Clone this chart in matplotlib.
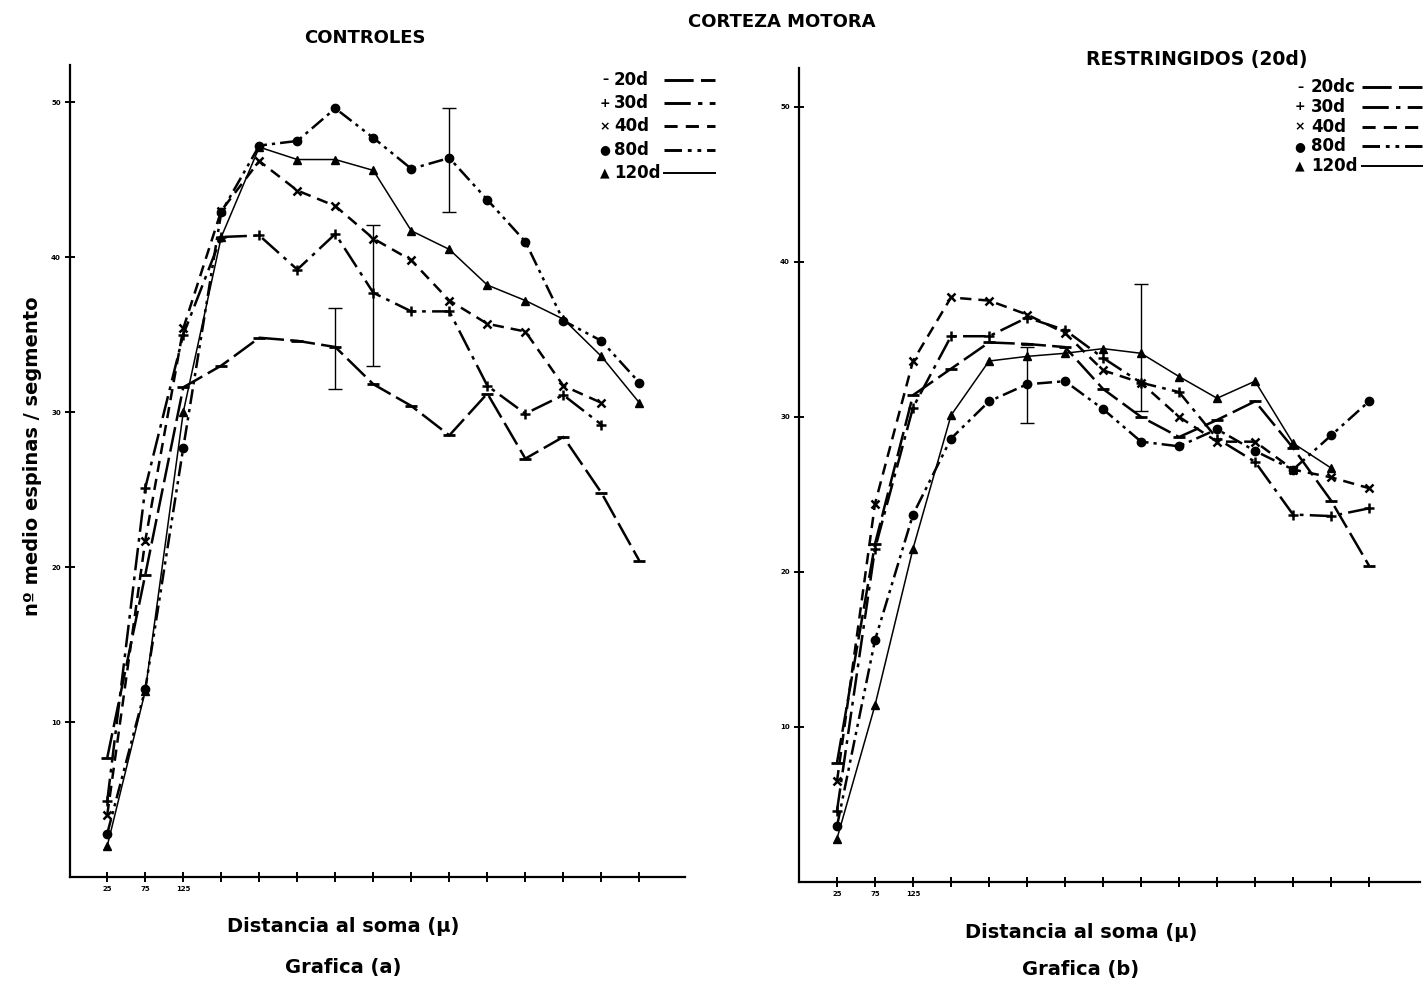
"""Corteza motora: spine density along the dendrite, controls vs. restricted."""

import matplotlib

matplotlib.use("Agg")

import matplotlib.pyplot as plt

# distance from soma (micra), shared by both panels
DIST = [25, 75, 125, 175, 225, 275, 325, 375, 425, 475, 525, 575, 625, 675, 725]

# Grafica (a) - controles
CTRL_20D = [7.7, 19.5, 31.6, 33.0, 34.8, 34.6, 34.2, 31.8, 30.4, 28.5, 31.2, 27.0, 28.4, 24.8, 20.4]
CTRL_30D = [4.9, 25.1, 35.0, 41.3, 41.4, 39.2, 41.5, 37.7, 36.5, 36.5, 31.7, 29.9, 31.1, 29.2]
CTRL_40D = [4.0, 21.7, 35.4, 43.0, 46.2, 44.3, 43.3, 41.2, 39.8, 37.2, 35.7, 35.2, 31.7, 30.6]
CTRL_80D = [2.8, 12.1, 27.7, 42.9, 47.2, 47.5, 49.6, 47.7, 45.7, 46.4, 43.7, 41.0, 35.9, 34.6, 31.9]
CTRL_120D = [2.0, 12.0, 30.0, 41.3, 47.1, 46.3, 46.3, 45.6, 41.7, 40.5, 38.2, 37.2, 36.0, 33.6, 30.6]

# Grafica (b) - restringidos (20d)
REST_20D = [7.7, 21.8, 31.4, 33.1, 34.8, 34.7, 34.5, 31.8, 30.0, 28.7, 29.8, 31.0, 28.0, 24.6, 20.4]
REST_30D = [4.6, 21.5, 30.6, 35.2, 35.2, 36.4, 35.6, 33.8, 32.2, 31.6, 28.6, 27.1, 23.7, 23.6, 24.1]
REST_40D = [6.5, 24.4, 33.6, 37.7, 37.5, 36.6, 35.4, 33.0, 32.2, 30.0, 28.4, 28.4, 26.6, 26.1, 25.4]
REST_80D = [3.6, 15.6, 23.7, 28.6, 31.0, 32.1, 32.3, 30.5, 28.4, 28.1, 29.2, 27.8, 26.6, 28.8, 31.0]
REST_120D = [2.8, 11.4, 21.5, 30.1, 33.6, 33.9, 34.1, 34.4, 34.1, 32.6, 31.2, 32.3, 28.3, 26.7]

# error bars: (distance, low, high)
CTRL_ERR = [(325, 31.5, 36.7), (375, 33.0, 42.1), (475, 42.9, 49.6)]
REST_ERR = [(275, 29.6, 34.5), (425, 30.4, 38.6)]

LEGEND_A = ["20d", "30d", "40d", "80d", "120d"]
LEGEND_B = ["20dc", "30d", "40d", "80d", "120d"]
SYMBOLS = ["\u2013", "+", "\u00d7", "\u25cf", "\u25b2"]

# marker / dash pattern for each age group
STYLES = [
    dict(marker="_", ms=9, mew=2.0, dashes=(10, 2.5), lw=1.8),
    dict(marker="+", ms=7, mew=1.8, dashes=(9, 2.5, 1.5, 2.5), lw=1.8),
    dict(marker="x", ms=5.5, mew=1.8, dashes=(4.5, 2.8), lw=1.8),
    dict(marker="o", ms=6, mew=1.0, dashes=(6, 2, 1.3, 2, 1.3, 2), lw=1.8),
    dict(marker="^", ms=5.5, mew=1.0, dashes=(None, None), lw=1.1),
]

FONT = dict(family="DejaVu Sans", fontweight="bold")
W, H = 1427, 985


def draw_panel(ax, series, errs, xlim, ylim):
    for vals, st in zip(series, STYLES):
        kw = dict(color="black", marker=st["marker"], ms=st["ms"], mew=st["mew"], lw=st["lw"])
        line, = ax.plot(DIST[: len(vals)], vals, **kw)
        if st["dashes"][0] is not None:
            line.set_dashes(st["dashes"])
    for x, lo, hi in errs:
        ax.errorbar([x], [(lo + hi) / 2], yerr=[[(hi - lo) / 2], [(hi - lo) / 2]],
                    fmt="none", ecolor="black", elinewidth=1.0, capsize=5, capthick=1.0)

    ax.set_xlim(*xlim)
    ax.set_ylim(*ylim)
    for side in ("top", "right"):
        ax.spines[side].set_visible(False)
    for side in ("left", "bottom"):
        ax.spines[side].set_linewidth(1.6)
    ax.set_yticks([10, 20, 30, 40, 50])
    ax.set_yticklabels(["10", "20", "30", "40", "50"], fontsize=5, fontweight="bold")
    ax.set_xticks(DIST)
    ax.set_xticklabels(["25", "75", "125"] + [""] * (len(DIST) - 3), fontsize=5, fontweight="bold")
    ax.tick_params(direction="inout", length=7, width=1.4, pad=3)


def draw_key(fig, labels, x0, y0, dy, sym_dx, line_x0, line_x1, size):
    for i, (lab, sym, st) in enumerate(zip(labels, SYMBOLS, STYLES)):
        y = y0 + i * dy
        fig.text(x0 / W, 1 - y / H, sym, ha="center", va="center", fontsize=size * 0.75, **FONT)
        fig.text((x0 + sym_dx) / W, 1 - y / H, lab, ha="left", va="center", fontsize=size, **FONT)
        ln = plt.Line2D([line_x0 / W, line_x1 / W], [1 - y / H, 1 - y / H], transform=fig.transFigure,
                        color="black", lw=st["lw"] + 0.3)
        if st["dashes"][0] is not None:
            ln.set_dashes(st["dashes"])
        fig.add_artist(ln)


fig = plt.figure(figsize=(W / 100, H / 100), dpi=100)

ax_a = fig.add_axes([70 / W, 1 - 877 / H, 615 / W, (877 - 65) / H])
ax_b = fig.add_axes([799 / W, 1 - 882 / H, 621 / W, (882 - 68) / H])

draw_panel(ax_a, [CTRL_20D, CTRL_30D, CTRL_40D, CTRL_80D, CTRL_120D], CTRL_ERR, (-24, 785), (0, 52.4))
draw_panel(ax_b, [REST_20D, REST_30D, REST_40D, REST_80D, REST_120D], REST_ERR, (-25, 792), (0, 52.5))

draw_key(fig, LEGEND_A, 605, 80, 23.2, 9, 664, 715, 12)
draw_key(fig, LEGEND_B, 1300, 87, 19.8, 11, 1362, 1422, 12)

fig.text(782 / W, 1 - 22 / H, "CORTEZA MOTORA", ha="center", va="center", fontsize=13, **FONT)
fig.text(365 / W, 1 - 38 / H, "CONTROLES", ha="center", va="center", fontsize=13, **FONT)
fig.text(1197 / W, 1 - 60 / H, "RESTRINGIDOS (20d)", ha="center", va="center", fontsize=13.5, **FONT)
fig.text(33 / W, 1 - 456 / H, "n\u00ba medio espinas / segmento", ha="center", va="center",
         rotation=90, fontsize=14, **FONT)
fig.text(343 / W, 1 - 927 / H, "Distancia al soma (\u00b5)", ha="center", va="center", fontsize=14, **FONT)
fig.text(343 / W, 1 - 968 / H, "Grafica (a)", ha="center", va="center", fontsize=14, **FONT)
fig.text(1081 / W, 1 - 933 / H, "Distancia al soma (\u00b5)", ha="center", va="center", fontsize=14, **FONT)
fig.text(1081 / W, 1 - 970 / H, "Grafica (b)", ha="center", va="center", fontsize=14, **FONT)

fig.savefig("out.png", dpi=100, facecolor="white")
